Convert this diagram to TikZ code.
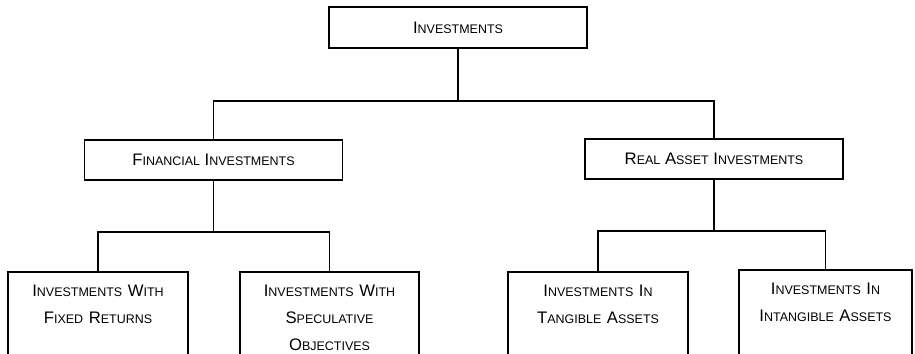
\documentclass[tikz,border=0pt]{standalone}
\usepackage{fontspec}
\setmainfont{Liberation Sans}
\newcommand{\capw}[2]{#1{\fontsize{7.1}{8}\selectfont#2}}
\begin{document}
\begin{tikzpicture}[font=\fontsize{9.5}{15.3}\selectfont, line width=0.9pt,
	hop/.style={draw, inner sep=0pt, minimum height=0.8cm, minimum width=5.16cm},
	hopduoi/.style={draw, anchor=north, inner xsep=0.1cm, inner ysep=0pt, text width=3.4cm, align=center, text height=14.2pt, text depth=3cm}]
	\useasboundingbox (0,0) rectangle (18.3,7.08);
	\clip (0,0) rectangle (18.3,7.08);
	\path
	%	các điểm nối
	(9.16,5.06) coordinate (n1)
	(4.27,2.44) coordinate (n2)
	(14.28,2.46) coordinate (n3)
	;
	\node[hop, minimum height=0.82cm] (I) at (9.16,6.53) {\capw{I}{NVESTMENTS}};
	\node[hop] (F) at (4.27,3.88) {\capw{F}{INANCIAL} \capw{I}{NVESTMENTS}};
	\node[hop] (R) at (14.28,3.9) {\capw{R}{EAL} \capw{A}{SSET} \capw{I}{NVESTMENTS}};
	\node[hopduoi] (FW) at (1.96,1.66) {\capw{I}{NVESTMENTS} \capw{W}{ITH}\\ \capw{F}{IXED} \capw{R}{ETURNS}};
	\node[hopduoi, text width=3.38cm] (FS) at (6.59,1.66) {\capw{I}{NVESTMENTS} \capw{W}{ITH}\\ \capw{S}{PECULATIVE}\\ \capw{O}{BJECTIVES}};
	\node[hopduoi] (RT) at (11.96,1.66) {\capw{I}{NVESTMENTS} \capw{I}{N}\\ \capw{T}{ANGIBLE} \capw{A}{SSETS}};
	\node[hopduoi, text width=3.26cm] (RI) at (16.51,1.70) {\capw{I}{NVESTMENTS} \capw{I}{N}\\ \capw{I}{NTANGIBLE} \capw{A}{SSETS}};
	\draw (I.south)--(n1) (F.north)|-(n1)-|(R.north);
	\draw (F.south)--(n2) (FW.north)|-(n2)-|(FS.north);
	\draw (R.south)--(n3) (RT.north)|-(n3)-|(RI.north);
\end{tikzpicture}
\end{document}
